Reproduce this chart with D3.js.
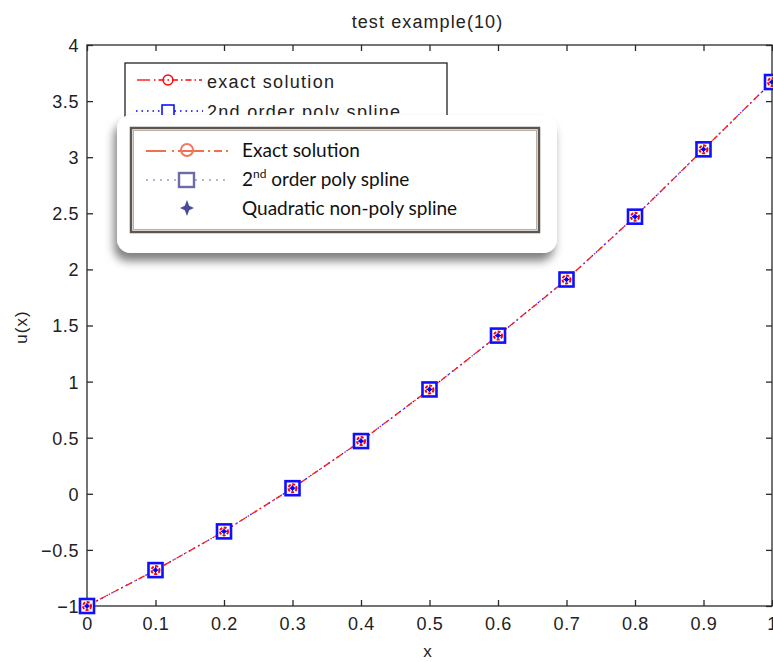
<!DOCTYPE html>
<html>
<head>
<meta charset="utf-8">
<script src="https://cdn.jsdelivr.net/npm/d3@7/dist/d3.min.js"></script>
<style>
  html, body { margin: 0; padding: 0; background: #fff; overflow: hidden; }
  svg { display: block; }
</style>
</head>
<body>
<svg id="chart" width="773" height="662"></svg>
<script>
// Sample points and solution values
const xValues = [0, 0.1, 0.2, 0.3, 0.4, 0.5, 0.6, 0.7, 0.8, 0.9, 1.0];
const exactSolution = [-1, -0.68, -0.335, 0.05, 0.47, 0.93, 1.41, 1.91, 2.47, 3.07, 3.67];
const polySpline = [-1, -0.68, -0.335, 0.05, 0.47, 0.93, 1.41, 1.91, 2.47, 3.07, 3.67];
const nonPolySpline = [-1, -0.68, -0.335, 0.05, 0.47, 0.93, 1.41, 1.91, 2.47, 3.07, 3.67];
const xTicks = [0, 0.1, 0.2, 0.3, 0.4, 0.5, 0.6, 0.7, 0.8, 0.9, 1];
const yTicks = [-1, -0.5, 0, 0.5, 1, 1.5, 2, 2.5, 3, 3.5, 4];
const legendOld = ["exact solution", "2nd order poly spline"];
const legendNew = ["Exact solution", "order poly spline", "Quadratic non-poly spline"];

const svg = d3.select("#chart");
const plotL = 87, plotR = 772, plotT = 45, plotB = 606;

const x = d3.scaleLinear().domain([0, 1]).range([plotL, plotR]);
const y = d3.scaleLinear().domain([-1, 4]).range([plotB, plotT]);

const mFont = "'Liberation Sans', Arial, sans-serif";

// Axes box
const axisColor = "#2a2a2a";
svg.append("rect").attr("x", plotL).attr("y", plotT)
  .attr("width", plotR - plotL).attr("height", plotB - plotT)
  .attr("fill", "none").attr("stroke", axisColor).attr("stroke-width", 1.3);

// Bottom and left axes (ticks inward)
const xAxis = d3.axisBottom(x).tickValues(xTicks).tickSize(-6).tickPadding(10)
  .tickFormat(d => d3.format("")(d));
const gx = svg.append("g").attr("transform", `translate(0,${plotB})`).call(xAxis);
const yAxis = d3.axisLeft(y).tickValues(yTicks).tickSize(-6).tickPadding(8)
  .tickFormat(d => d3.format("")(d));
const gy = svg.append("g").attr("transform", `translate(${plotL},0)`).call(yAxis);
// Top and right mirrored ticks
const gxt = svg.append("g").attr("transform", `translate(0,${plotT})`)
  .call(d3.axisTop(x).tickValues(xTicks).tickSize(-6).tickFormat(""));
const gyr = svg.append("g").attr("transform", `translate(${plotR},0)`)
  .call(d3.axisRight(y).tickValues(yTicks).tickSize(-6).tickFormat(""));

[gx, gy, gxt, gyr].forEach(g => {
  g.select(".domain").remove();
  g.selectAll(".tick line").attr("stroke", axisColor).attr("stroke-width", 1.3);
  g.selectAll("text").attr("fill", "#222").attr("font-family", mFont)
    .attr("font-size", 18).attr("letter-spacing", 0.6);
});
gy.selectAll("text").attr("dy", "0.36em");
gx.selectAll("text").attr("dy", "0.75em");

// Title and axis labels
svg.append("text").attr("x", (plotL + plotR) / 2 - 2).attr("y", 28)
  .attr("text-anchor", "middle").attr("font-family", mFont).attr("font-size", 18)
  .attr("letter-spacing", 1.1).attr("fill", "#222").text("test example(10)");
svg.append("text").attr("x", (plotL + plotR) / 2 - 2).attr("y", 657)
  .attr("text-anchor", "middle").attr("font-family", mFont).attr("font-size", 17)
  .attr("fill", "#222").text("x");
svg.append("text").attr("transform", `translate(27,${327}) rotate(-90)`)
  .attr("text-anchor", "middle").attr("font-family", mFont).attr("font-size", 17)
  .attr("letter-spacing", 1).attr("fill", "#222").text("u(x)");

// Lines
const lineGen = vals => d3.line().x((d, i) => x(xValues[i])).y(d => y(d))(vals);
svg.append("path").attr("d", lineGen(polySpline)).attr("fill", "none")
  .attr("stroke", "#1a1aff").attr("stroke-width", 1.3).attr("stroke-dasharray", "1.5,4");
svg.append("path").attr("d", lineGen(exactSolution)).attr("fill", "none")
  .attr("stroke", "#ff1a1a").attr("stroke-width", 1.3).attr("stroke-dasharray", "7,3,1.5,3");

// Markers: square (poly spline), circle (exact), star (non-poly spline)
const mk = svg.append("g");
xValues.forEach((xv, i) => {
  const cx = x(xv), cyS = y(polySpline[i]), cyE = y(exactSolution[i]), cyN = y(nonPolySpline[i]);
  mk.append("rect").attr("x", cx - 7).attr("y", cyS - 7).attr("width", 14).attr("height", 14)
    .attr("fill", "#fff").attr("stroke", "#1010ff").attr("stroke-width", 2.6);
  mk.append("circle").attr("cx", cx).attr("cy", cyE).attr("r", 4)
    .attr("fill", "none").attr("stroke", "#ff0000").attr("stroke-width", 2)
    .attr("stroke-dasharray", "3,1.5");
  mk.append("path").attr("transform", `translate(${cx},${cyN})`)
    .attr("d", d3.symbol(d3.symbolCircle, 14)())
    .attr("fill", "#0000ff");
  mk.append("path").attr("transform", `translate(${cx},${cyN})`)
    .attr("d", "M-3,0H3M0,-3V3").attr("stroke", "#0000ff").attr("stroke-width", 1.2);
});

// Original plot legend (partly covered)
const lg = svg.append("g");
lg.append("rect").attr("x", 125).attr("y", 63).attr("width", 322).attr("height", 80)
  .attr("fill", "#fff").attr("stroke", "#222").attr("stroke-width", 1.3);
lg.append("line").attr("x1", 137).attr("x2", 150).attr("y1", 80).attr("y2", 80)
  .attr("stroke", "#ff0000").attr("stroke-width", 1.3);
lg.append("line").attr("x1", 154).attr("x2", 202).attr("y1", 80).attr("y2", 80)
  .attr("stroke", "#ff0000").attr("stroke-width", 1.3).attr("stroke-dasharray", "1.5,3,6,3");
lg.append("circle").attr("cx", 168).attr("cy", 80).attr("r", 5)
  .attr("fill", "none").attr("stroke", "#ff0000").attr("stroke-width", 1.3);
lg.append("line").attr("x1", 136).attr("x2", 203).attr("y1", 111).attr("y2", 111)
  .attr("stroke", "#0000ff").attr("stroke-width", 1.3).attr("stroke-dasharray", "1.5,4");
lg.append("rect").attr("x", 162).attr("y", 105).attr("width", 12).attr("height", 12)
  .attr("fill", "#fff").attr("stroke", "#0000ff").attr("stroke-width", 1.5);
lg.selectAll("text.lo").data(legendOld).join("text").attr("class", "lo")
  .attr("x", 207).attr("y", (d, i) => 88 + i * 30)
  .attr("font-family", mFont).attr("font-size", 18).attr("letter-spacing", 1.3)
  .attr("fill", "#222").text(d => d);

// Pasted legend card with soft shadow
const defs = svg.append("defs");
const f = defs.append("filter").attr("id", "shadow").attr("x", "-20%").attr("y", "-20%")
  .attr("width", "140%").attr("height", "150%");
f.append("feDropShadow").attr("dx", -3).attr("dy", 8).attr("stdDeviation", 5)
  .attr("flood-color", "#000").attr("flood-opacity", 0.5);
const fb = defs.append("filter").attr("id", "soft");
fb.append("feGaussianBlur").attr("stdDeviation", 0.5);

const card = svg.append("g");
card.append("rect").attr("x", 117).attr("y", 115).attr("width", 440).attr("height", 138)
  .attr("rx", 14).attr("ry", 14).attr("fill", "#fff").attr("filter", "url(#shadow)");
card.append("rect").attr("x", 131).attr("y", 128).attr("width", 408).attr("height", 104)
  .attr("fill", "none").attr("stroke", "#5e564e").attr("stroke-width", 2.5);
card.append("rect").attr("x", 133.5).attr("y", 130.5).attr("width", 403).attr("height", 99)
  .attr("fill", "none").attr("stroke", "#b8b0a8").attr("stroke-width", 1);

const sym = card.append("g").attr("filter", "url(#soft)");
// Exact solution sample
sym.append("line").attr("x1", 146).attr("x2", 166).attr("y1", 151).attr("y2", 151)
  .attr("stroke", "#f07050").attr("stroke-width", 2);
sym.append("line").attr("x1", 172).attr("x2", 228).attr("y1", 151).attr("y2", 151)
  .attr("stroke", "#f07050").attr("stroke-width", 2).attr("stroke-dasharray", "2,4,8,4");
sym.append("line").attr("x1", 178).attr("x2", 197).attr("y1", 151).attr("y2", 151)
  .attr("stroke", "#f07050").attr("stroke-width", 2);
sym.append("circle").attr("cx", 187).attr("cy", 150).attr("r", 6)
  .attr("fill", "none").attr("stroke", "#f07860").attr("stroke-width", 2);
// Poly spline sample
sym.append("line").attr("x1", 146).attr("x2", 228).attr("y1", 180).attr("y2", 180)
  .attr("stroke", "#9a9ad0").attr("stroke-width", 1.6).attr("stroke-dasharray", "2,5");
sym.append("rect").attr("x", 179).attr("y", 173).attr("width", 15).attr("height", 14)
  .attr("fill", "#fff").attr("stroke", "#6c6ca8").attr("stroke-width", 2.4);
// Non-poly spline sample: four-point star
sym.append("path").attr("transform", "translate(187,208)")
  .attr("d", "M0,-8L2.2,-2.2L7,0L2.2,2.2L0,8L-2.2,2.2L-7,0L-2.2,-2.2Z")
  .attr("fill", "#4c4c98");

const cFont = "Lato, 'Open Sans', sans-serif";
const tx = card.append("g").attr("font-family", cFont).attr("font-size", 19).attr("fill", "#111");
tx.append("text").attr("x", 242).attr("y", 157).text(legendNew[0]);
const t2 = tx.append("text").attr("x", 242).attr("y", 186);
t2.append("tspan").text("2");
t2.append("tspan").attr("font-size", 12).attr("dy", -8).text("nd");
t2.append("tspan").attr("dy", 8).text(" " + legendNew[1]);
tx.append("text").attr("x", 242).attr("y", 215).text(legendNew[2]);
</script>
</body>
</html>
